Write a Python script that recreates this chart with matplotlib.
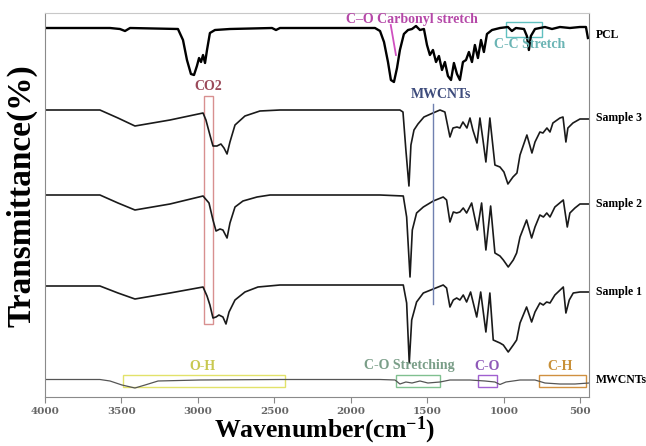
import numpy as np
import matplotlib
matplotlib.use("Agg")
from matplotlib import pyplot as plt
from matplotlib.patches import Rectangle

# FTIR spectra (wavenumber, stacked transmittance in a.u.)
pcl_wn = [4000, 3575, 3510, 3477, 3444, 3131, 3098, 3072, 3046, 3026, 3007, 2993, 2980, 2967,
          2954, 2941, 2922, 2889, 2791, 2516, 2490, 2464, 1941, 1843, 1810, 1784, 1758, 1739,
          1719, 1699, 1680, 1654, 1627, 1601, 1575, 1549, 1523, 1503, 1484, 1464, 1444, 1425,
          1405, 1386, 1366, 1346, 1327, 1307, 1288, 1268, 1248, 1229, 1209, 1190, 1170, 1150,
          1131, 1111, 1078, 1026, 974, 948, 922, 869, 850, 837, 824, 797, 732, 686, 634, 569,
          503, 464, 451]
pcl_t = [369, 369, 368, 366, 369, 368, 357, 337, 323, 322, 331, 339, 335, 342,
         334, 347, 364, 367, 368, 369, 367, 369, 369, 369, 366, 355, 335, 317,
         315, 329, 347, 363, 367, 368, 371, 367, 368, 352, 342, 347, 335, 341,
         327, 335, 321, 317, 334, 323, 317, 335, 337, 345, 335, 352, 339, 357,
         345, 363, 367, 369, 370, 366, 369, 368, 361, 347, 361, 368, 370, 368, 370, 369,
         370, 370, 359]

s3_wn = [4000, 3641, 3523, 3412, 3183, 2967, 2948, 2922, 2902, 2876, 2850, 2830, 2810, 2791,
         2758, 2693, 2595, 2464, 1680, 1660, 1641, 1621, 1608, 1588, 1562, 1523, 1464, 1418,
         1386, 1353, 1333, 1307, 1288, 1268, 1242, 1222, 1203, 1176, 1157, 1137, 1118, 1092,
         1059, 1026, 1000, 974, 941, 915, 895, 850, 817, 797, 765, 745, 719, 699, 680, 634,
         614, 595, 582, 549, 503, 444]
s3_t = [287, 287, 279, 271, 277, 284, 277, 262, 251, 251, 253, 249, 243, 255,
        272, 281, 286, 287, 287, 285, 247, 211, 252, 267, 273, 280, 284, 287,
        285, 260, 269, 270, 269, 275, 269, 279, 267, 254, 279, 257, 235, 279,
        232, 230, 225, 213, 220, 224, 242, 262, 244, 255, 265, 264, 269, 265, 274, 279,
        280, 255, 269, 274, 278, 278]

s2_wn = [4000, 3641, 3523, 3412, 3183, 2967, 2928, 2902, 2882, 2856, 2837, 2810, 2791, 2758,
         2706, 2614, 2529, 1810, 1658, 1636, 1614, 1599, 1571, 1527, 1462, 1397, 1375, 1353,
         1331, 1309, 1288, 1266, 1244, 1211, 1174, 1146, 1118, 1087, 1059, 1026, 1004, 972,
         939, 917, 895, 852, 819, 797, 765, 742, 720, 699, 667, 612, 586, 569, 536, 503, 449]
s2_t = [202, 202, 194, 187, 193, 201, 194, 177, 166, 168, 167, 159, 174, 190,
        196, 200, 202, 202, 201, 180, 120, 167, 184, 190, 196, 200, 197, 175,
        185, 184, 185, 189, 184, 194, 167, 194, 147, 191, 144, 141, 137, 130,
        137, 144, 160, 177, 159, 170, 182, 180, 184, 180, 190, 197, 170, 184, 189, 193, 193]

s1_wn = [4000, 3641, 3523, 3412, 3183, 2967, 2941, 2922, 2902, 2882, 2863, 2837, 2817, 2797,
         2758, 2693, 2608, 2464, 1810, 1658, 1636, 1619, 1603, 1571, 1527, 1462, 1397, 1375,
         1353, 1331, 1309, 1288, 1266, 1244, 1218, 1178, 1152, 1118, 1092, 1070, 1026, 1004,
         972, 939, 917, 895, 852, 819, 797, 765, 743, 721, 699, 667, 612, 595, 573, 547, 503, 449]
s1_t = [111, 111, 104, 98, 104, 110, 101, 92, 79, 80, 82, 80, 73, 85,
        97, 105, 110, 112, 112, 112, 94, 34, 77, 95, 104, 108, 112, 109,
        90, 97, 99, 97, 102, 95, 105, 80, 105, 65, 104, 57, 54, 52,
        45, 52, 57, 74, 90, 75, 85, 94, 92, 95, 94, 102, 110, 84, 97, 104, 105, 105]

cnt_wn = [4000, 3641, 3575, 3497, 3412, 3346, 3261, 2987, 2464, 1810, 1712, 1680, 1641, 1601,
          1549, 1497, 1418, 1353, 1222, 1124, 1059, 1026, 987, 895, 797, 732, 634, 536, 444]
cnt_t = [17.5, 17.5, 16, 12, 9, 12, 16, 17, 17.5, 17.5, 17, 13, 15, 14,
         16, 14, 15, 17, 17, 16, 15, 12.5, 15, 17, 17, 14, 13, 13, 14]

series_names = ["PCL", "Sample 3", "Sample 2", "Sample 1", "MWCNTs"]
label_t = [362, 279, 193, 105, 17]
x_ticks = [4000, 3500, 3000, 2500, 2000, 1500, 1000, 500]

plt.rcParams["font.family"] = ["Liberation Serif", "DejaVu Serif"]
plt.rcParams["font.weight"] = "bold"
plt.rcParams["mathtext.fontset"] = "custom"
plt.rcParams["mathtext.rm"] = "Liberation Serif:bold"
plt.rcParams["mathtext.bf"] = "Liberation Serif:bold"
plt.rcParams["mathtext.default"] = "bf"

fig = plt.figure(figsize=(6.46, 4.46), dpi=100)
ax = fig.add_axes([45 / 646, 49 / 446, 544 / 646, 384 / 446])

ax.plot(pcl_wn, pcl_t, color="black", lw=1.7)
ax.plot(s3_wn, s3_t, color="#1a1a1a", lw=1.2)
ax.plot(s2_wn, s2_t, color="#1a1a1a", lw=1.2)
ax.plot(s1_wn, s1_t, color="#1a1a1a", lw=1.2)
ax.plot(cnt_wn, cnt_t, color="#555555", lw=0.9)

ax.set_xlim(4000, 444)
ax.set_ylim(0, 384)

# series names at the right of the frame
for name, t in zip(series_names, label_t):
    ax.annotate(name, xy=(1, t), xycoords=("axes fraction", "data"),
                xytext=(5, 0), textcoords="offset points",
                ha="left", va="center", fontsize=8.5, annotation_clip=False)

# annotations
fs = 10
ax.add_patch(Rectangle((2961, 73), 2902 - 2961, 228, fill=False, ec="#d89090", lw=1))
ax.text(2931, 310, "CO2", color="#9b4a5a", fontsize=fs, ha="center", va="center")

ax.plot([1464, 1464], [93, 293], color="#7080b0", lw=1)
ax.text(1412, 302, "MWCNTs", color="#3e4c7c", fontsize=fs, ha="center", va="center")

ax.text(1601, 377, "C\u2013O Carbonyl stretch", color="#b548a8", fontsize=fs,
        ha="center", va="center")
ax.plot([1740, 1706], [372, 342], color="#d050c0", lw=1.3)

ax.add_patch(Rectangle((987, 360), 752 - 987, 15, fill=False, ec="#60c0c0", lw=1))
ax.text(830, 353, "C-C Stretch", color="#6ab4b4", fontsize=fs, ha="center", va="center")

boxes = [(3490, 2431, "O-H", 2974, "#e2e26a", "#c8c850"),
         (1706, 1418, "C-O Stretching", 1618, "#80c090", "#7a9e88"),
         (1170, 1046, "C-O", 1111, "#a060d0", "#8e58b8"),
         (771, 464, "C-H", 634, "#d09040", "#c89038")]
for x0, x1, txt, xt, ec, tc in boxes:
    ax.add_patch(Rectangle((x0, 10), x1 - x0, 12, fill=False, ec=ec, lw=1))
    ax.text(xt, 31, txt, color=tc, fontsize=fs, ha="center", va="center")

ax.set_xticks(x_ticks)
ax.set_xticklabels([str(v) for v in x_ticks], fontsize=7.5, color="#666666",
                   family="DejaVu Serif", fontweight="bold")
ax.tick_params(axis="x", direction="out", length=4, color="#888888", pad=3)
ax.set_yticks([])
for side in ["left", "bottom", "right"]:
    ax.spines[side].set_color("#8a8a8a")
ax.spines["top"].set_color("#c8c8c8")

fig.text(325 / 646, 1 - 437 / 446, "Wavenumber(cm$^{-1}$)", fontsize=18.5,
         ha="center", va="baseline")
fig.text(22 / 646, 1 - 196 / 446, "Transmittance(%)", fontsize=24, rotation=90,
         ha="center", va="center")

fig.savefig("out.png", dpi=100)
